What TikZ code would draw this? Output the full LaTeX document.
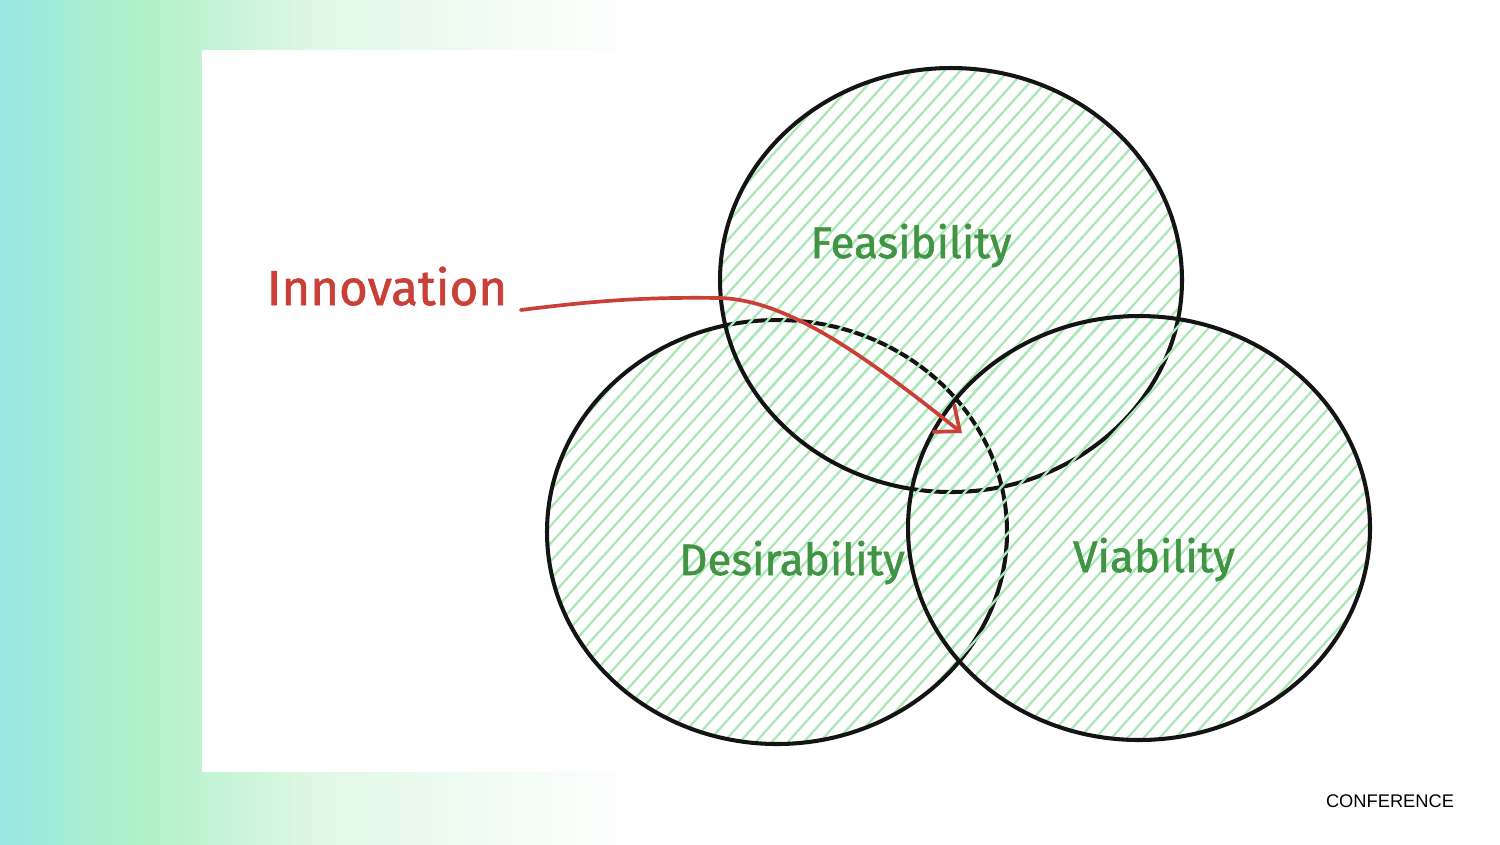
\documentclass[tikz,border=0pt]{standalone}
\usepackage{fontspec}
\setmainfont{Fira Sans}
\newfontfamily\handfont{Fira Sans}[FakeBold=1.3]
\newfontfamily\slidefont{Liberation Sans}
\usetikzlibrary{arrows.meta}

\definecolor{bgteal}{HTML}{97E8E2}
\definecolor{bgmint}{HTML}{B0F0C8}
\definecolor{bgpale}{HTML}{E2F8E7}
\definecolor{hatchgreen}{HTML}{ABE8B6}
\definecolor{labelgreen}{HTML}{409444}
\definecolor{innovred}{HTML}{CA3F37}

\tikzset{
  ring/.style={draw=black!92, line width=1.15pt},
  hatch/.style={draw=hatchgreen, line width=0.65pt},
  venntext/.style={text=labelgreen, inner sep=0pt, anchor=base, font=\handfont\fontsize{12.5}{14}\selectfont},
  arrowline/.style={draw=innovred, line width=1.05pt, line cap=round, -{Straight Barb[length=6pt,width=10pt]}},
}

\begin{document}
\begin{tikzpicture}[x=0.01cm, y=-0.01cm]
\useasboundingbox (0,0) rectangle (1500,844);
% backdrop
\shade[left color=bgteal, right color=bgmint] (0,0) rectangle (140,844);
\shade[left color=bgmint, right color=bgpale] (140,0) rectangle (330,844);
\shade[left color=bgpale, right color=white] (330,0) rectangle (640,844);
\fill[white] (202,50) rectangle (1500,772);

% the three circles, each hatched then outlined
\foreach \cx/\cy/\rx in {777/532/230, 951/280/231, 1139/528/231} {
  \begin{scope}
    \clip (\cx,\cy) ellipse [x radius=\rx, y radius=212];
    \foreach \k in {30,...,135}
      \draw[hatch] (\k*16-760,844) -- (\k*16,0);
  \end{scope}
  \draw[ring] (\cx,\cy) ellipse [x radius=\rx, y radius=212];
}

\node[venntext] (feas) at (911,258) {Feasibility};
\node[venntext] (desir) at (792,575) {Desirability};
\node[venntext] (viab) at (1154,572) {Viability};

% pointer to the middle
\node[venntext, text=innovred, font=\handfont\fontsize{14}{16}\selectfont] (innov) at (387,305) {Innovation};
\coordinate (core) at (962,433);
\draw[arrowline] ([shift={(13,5)}]innov.base east) .. controls (600,300) and (650,297) .. (720,298)
  .. controls (790,300) and (870,360) .. (core);

\node[inner sep=0pt, anchor=base, font=\slidefont\fontsize{5.2}{6}\selectfont] (brand) at (1390,807) {CONFERENCE};
\end{tikzpicture}
\end{document}
